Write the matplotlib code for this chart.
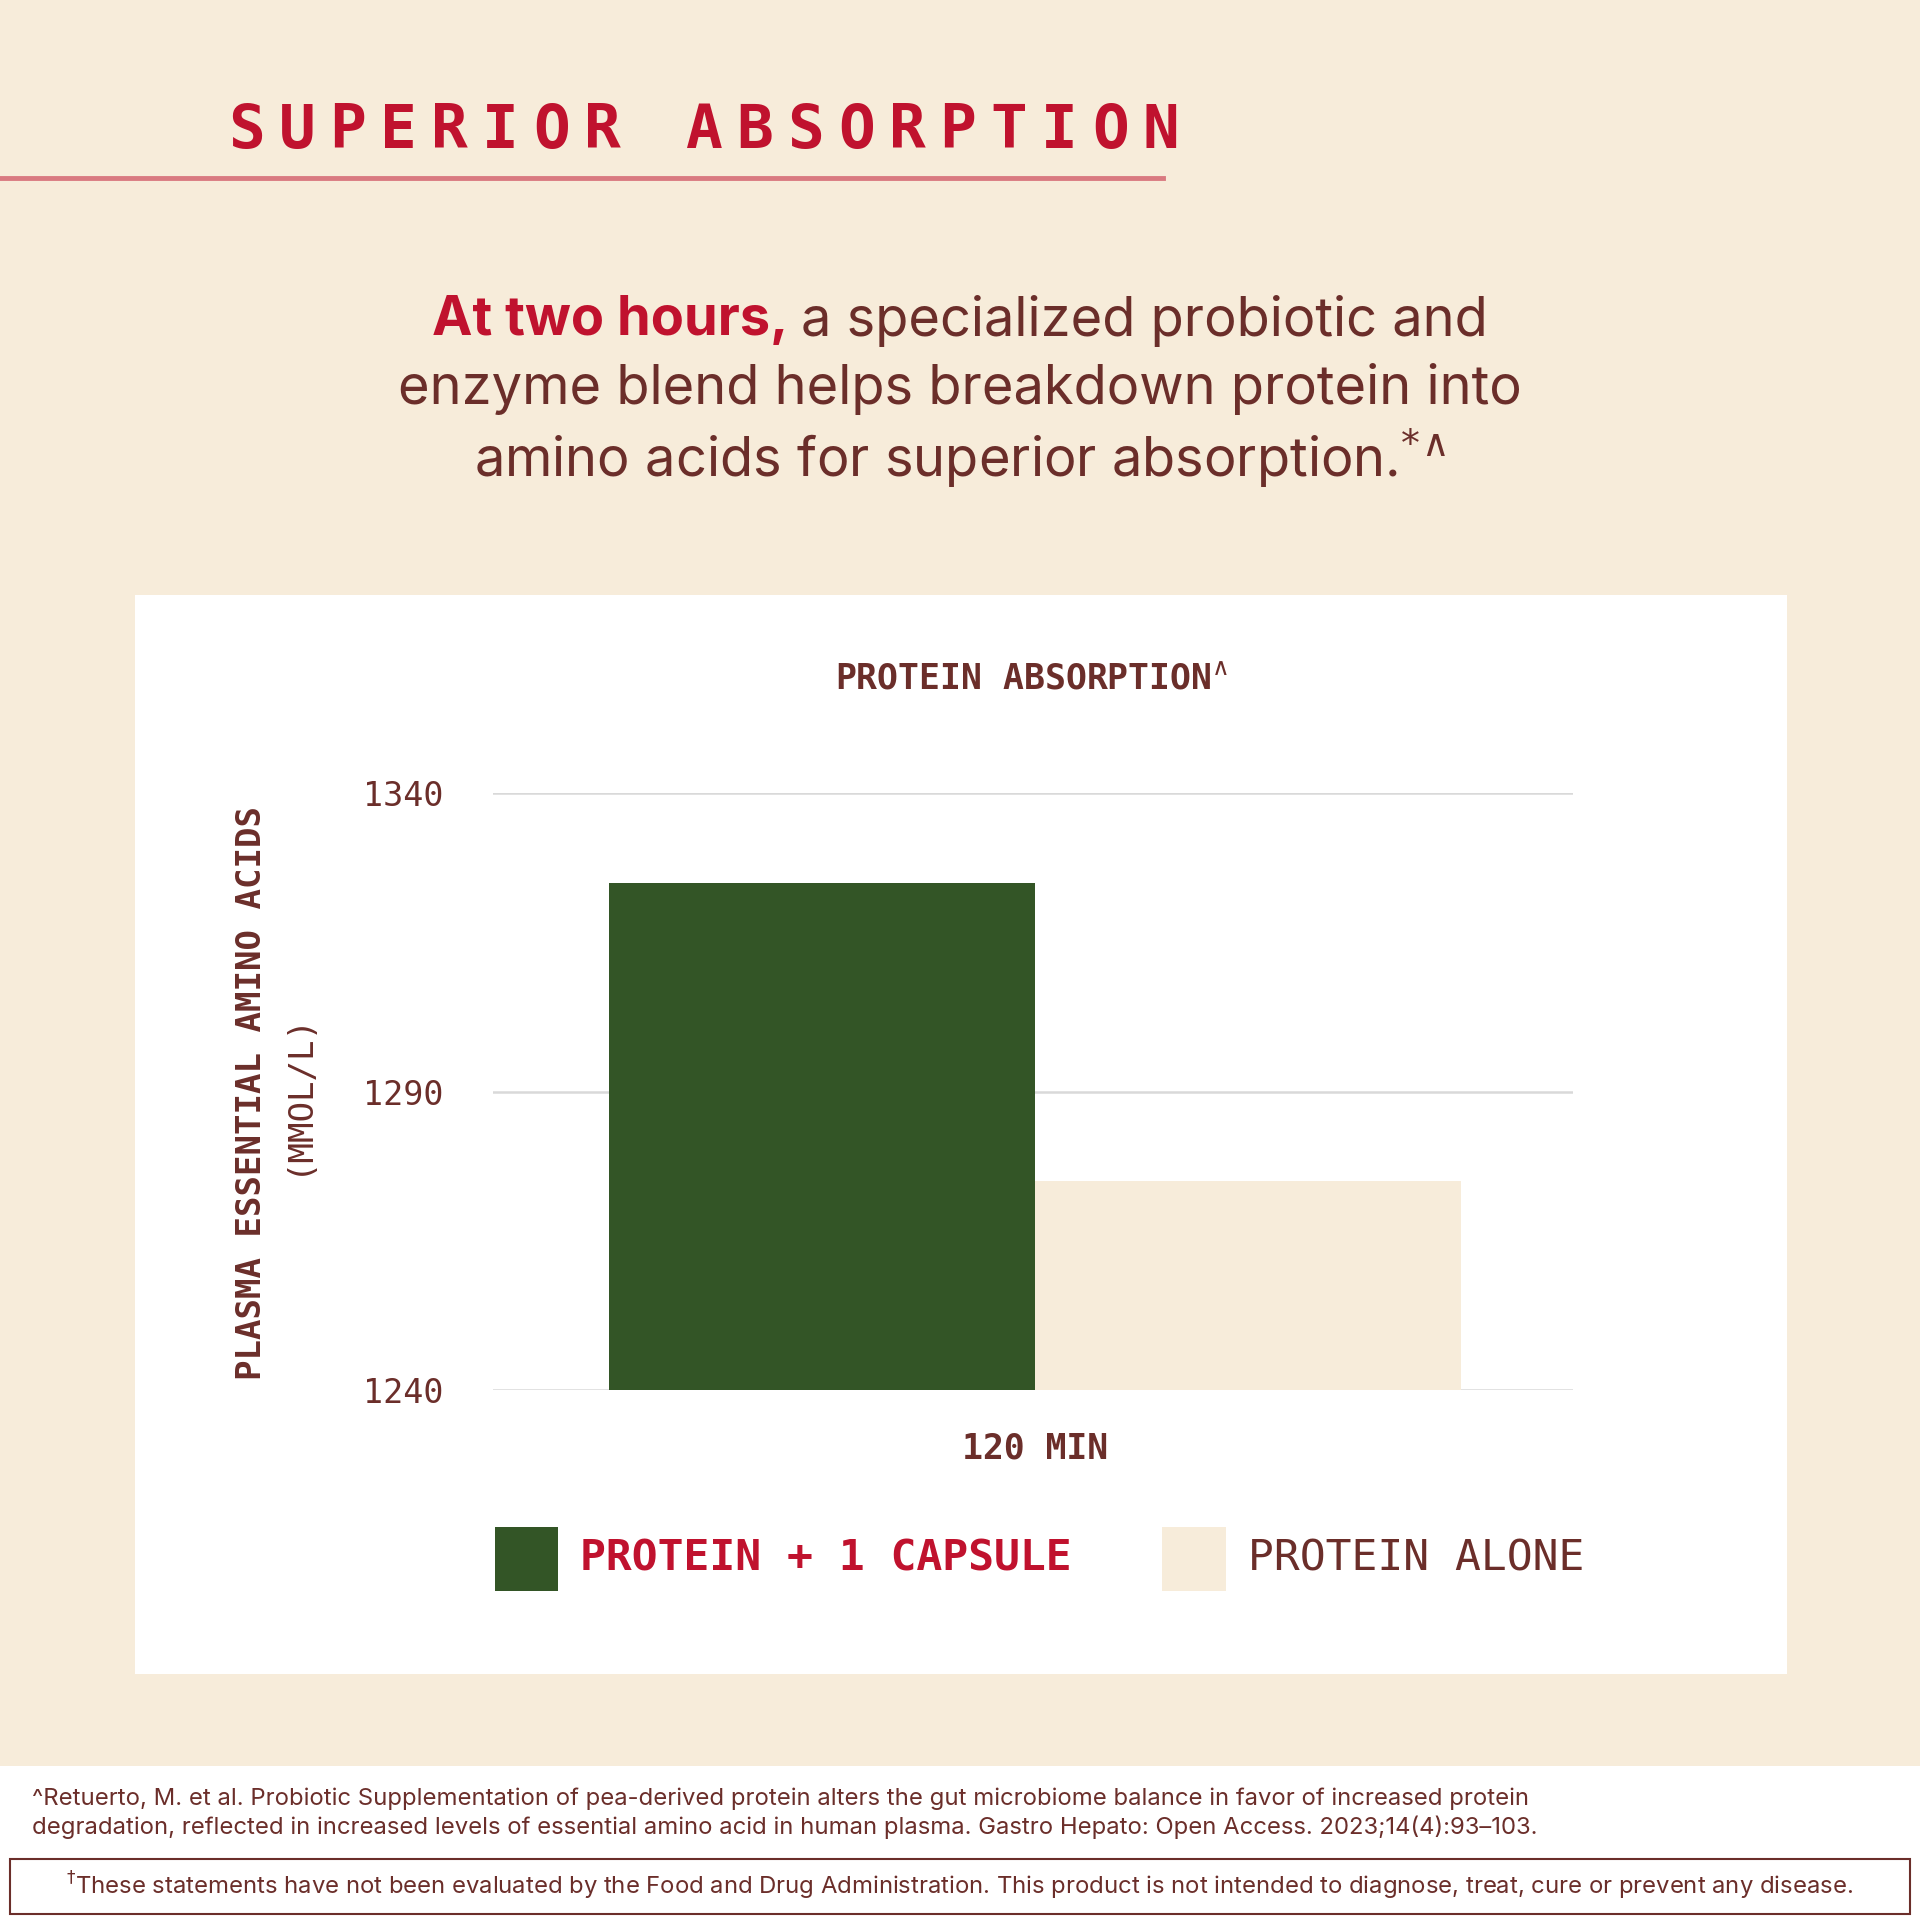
import matplotlib
matplotlib.use("Agg")
import matplotlib.pyplot as plt
from matplotlib.patches import Rectangle

# Data
categories = ["PROTEIN + 1 CAPSULE", "PROTEIN ALONE"]
values = [1325, 1275]
bar_colors = ["#335526", "#F7ECDA"]
yticks = [1240, 1290, 1340]

BG = "#F7ECDA"
RED = "#C0122E"
BROWN = "#6B2E2A"
MONO = "DejaVu Sans Mono"
SANS = ["Inter", "DejaVu Sans"]

S = 1568.0
def fx(x): return x / S
def fy(y): return 1 - y / S

fig = plt.figure(figsize=(19.2, 19.2), dpi=100, facecolor=BG)
renderer = fig.canvas.get_renderer()

# Title, letters placed on a fixed pitch + underline
title = "SUPERIOR ABSORPTION"
pitch = (950 - 186) / (len(title) - 0.6)
for i, ch in enumerate(title):
    fig.text(fx(186 + i * pitch), fy(107), ch, color=RED, family=MONO,
             fontweight="bold", fontsize=44, va="center", ha="left")
fig.add_artist(plt.Line2D([0, fx(950)], [fy(145), fy(145)], color="#D97A80", lw=3.5))

# Subtitle
SUB = 39
t1 = fig.text(0, fy(262), "At two hours, ", color=RED, family=SANS, fontweight="bold",
              fontsize=SUB, va="center", ha="left")
t2 = fig.text(0, fy(262), "a specialized probiotic and", color=BROWN, family=SANS,
              fontsize=SUB, va="center", ha="left")
w1 = t1.get_window_extent(renderer).width / fig.bbox.width
w2 = t2.get_window_extent(renderer).width / fig.bbox.width
x0 = 0.5 - (w1 + w2) / 2
t1.set_x(x0)
t2.set_x(x0 + w1)
fig.text(fx(784), fy(318), "enzyme blend helps breakdown protein into", color=BROWN,
         family=SANS, fontsize=SUB, va="center", ha="center")
fig.text(fx(784), fy(374), "amino acids for superior absorption.$^{*\\!\\wedge}$", color=BROWN,
         family=SANS, fontsize=SUB, va="center", ha="center")

# White panel
fig.add_artist(Rectangle((fx(110), fy(1367)), fx(1459 - 110), (1367 - 486) / S,
                         transform=fig.transFigure, facecolor="white", edgecolor="none",
                         zorder=-5))

fig.text(fx(843), fy(555), "PROTEIN ABSORPTION$^{\\wedge}$", color=BROWN, family=MONO,
         fontweight="bold", fontsize=25, va="center", ha="center")

ax = fig.add_axes([fx(403), fy(1135), fx(1285 - 403), (1135 - 648) / S])
ax.set_zorder(2)
ax.set_facecolor("none")
ax.bar([-0.5, 0.5], [v - 1240 for v in values], bottom=1240, width=1.0,
       color=bar_colors, zorder=3)
ax.set_xlim(-1.27, 1.264)
ax.set_ylim(1240, 1340)
ax.set_yticks(yticks)
ax.set_yticklabels([str(t) for t in yticks], family=MONO, fontsize=24, color=BROWN)
ax.tick_params(axis="y", length=0, pad=36)
ax.set_xticks([0])
ax.set_xticklabels(["120 MIN"], family=MONO, fontweight="bold", fontsize=25, color=BROWN)
ax.tick_params(axis="x", length=0, pad=30)
ax.grid(axis="y", color="#D9D9D9", lw=1.8, zorder=0)
for sp in ax.spines.values():
    sp.set_visible(False)

fig.text(fx(205), fy(893), "PLASMA ESSENTIAL AMINO ACIDS", rotation=90, color=BROWN,
         family=MONO, fontweight="bold", fontsize=24.5, va="center", ha="center")
fig.text(fx(243), fy(893), "(MMOL/L)", rotation=90, color=BROWN,
         family=MONO, fontsize=24.5, va="center", ha="center")

# Legend
for (xs, tx), c, lab, col, fw in zip([(404, 474), (949, 1019)], bar_colors, categories,
                                      [RED, BROWN], ["bold", "normal"]):
    fig.add_artist(Rectangle((fx(xs), fy(1299)), 52 / S, 52 / S, transform=fig.transFigure,
                             facecolor=c, edgecolor="none"))
    fig.text(fx(tx), fy(1273), lab, color=col, family=MONO, fontweight=fw, fontsize=31,
             va="center", ha="left")

# Footer
fig.add_artist(Rectangle((0, 0), 1, (1568 - 1442) / S, transform=fig.transFigure,
                         facecolor="white", edgecolor="none", zorder=-5))
FOOT = 17.2
fig.text(fx(26), fy(1469), "^Retuerto, M. et al. Probiotic Supplementation of pea-derived protein alters the gut microbiome balance in favor of increased protein",
         color=BROWN, family=SANS, fontsize=FOOT, va="center", ha="left")
fig.text(fx(26), fy(1492), "degradation, reflected in increased levels of essential amino acid in human plasma. Gastro Hepato: Open Access. 2023;14(4):93\u2013103.",
         color=BROWN, family=SANS, fontsize=FOOT, va="center", ha="left")
fig.add_artist(Rectangle((fx(8), fy(1563)), fx(1560 - 8), 45 / S, transform=fig.transFigure,
                         facecolor="none", edgecolor=BROWN, lw=1.5))
fig.text(fx(784), fy(1540), "$^{\u2020}$These statements have not been evaluated by the Food and Drug Administration. This product is not intended to diagnose, treat, cure or prevent any disease.",
         color=BROWN, family=SANS, fontsize=FOOT, va="center", ha="center")

fig.savefig("out.png", dpi=100, facecolor=BG)
